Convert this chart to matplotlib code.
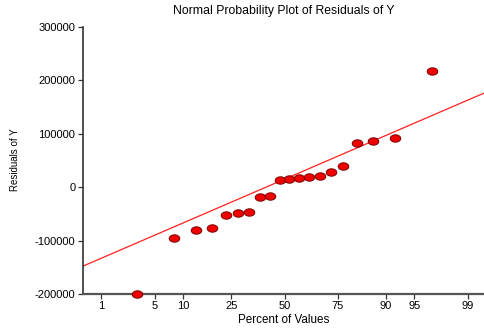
import numpy as np
import matplotlib
matplotlib.use('Agg')
import matplotlib.pyplot as plt
from matplotlib.path import Path
from matplotlib import font_manager
from statistics import NormalDist

# Residuals, sorted
residuals = [-200000, -94600, -80200, -77000, -52700, -47700, -46400,
             -19000, -17100, 14000, 16000, 16600, 19700, 20400, 28500,
             39700, 82200, 86500, 92100, 218200]

# Reference line
line_intercept = 15000
line_slope = 63700

pct_ticks = [1, 5, 10, 25, 50, 75, 90, 95, 99]
y_ticks = [-200000, -100000, 0, 100000, 200000, 300000]

nd = NormalDist()
n = len(residuals)
# Blom plotting positions -> normal quantiles
z = [nd.inv_cdf((i + 1 - 0.375) / (n + 0.25)) for i in range(n)]

plt.rcParams['font.family'] = ['Liberation Sans', 'DejaVu Sans']

# narrow font for the y label if one is around
names = {f.name for f in font_manager.fontManager.ttflist}
narrow = 'Liberation Sans Narrow' if 'Liberation Sans Narrow' in names else None

fig = plt.figure(figsize=(4.84, 3.29), dpi=100)
ax = fig.add_axes([0.1715, 0.1064, 0.8285, 0.8116])

# Horizontally stretched ellipse marker
t = np.linspace(0, 2 * np.pi, 60)
ellipse = Path(np.column_stack([np.cos(t), 0.7 * np.sin(t)]), closed=True)

x_lo, x_hi = -2.556, 2.53
xs = np.array([x_lo, x_hi])
ax.plot(xs, line_intercept + line_slope * xs, color='#ff2020', lw=0.9, zorder=2)
ax.plot(z, residuals, linestyle='none', marker=ellipse, markersize=7.6,
        markerfacecolor='#ee0000', markeredgecolor='#7a0000', markeredgewidth=0.7,
        zorder=3, clip_on=False)

ax.set_xlim(x_lo, x_hi)
ax.set_ylim(-200000, 300000)
ax.set_xticks([nd.inv_cdf(p / 100) for p in pct_ticks])
ax.set_xticklabels([str(p) for p in pct_ticks])
ax.set_yticks(y_ticks)
ax.set_yticklabels([str(v) for v in y_ticks])

for s in ['top', 'right']:
    ax.spines[s].set_visible(False)
ax.spines['left'].set_color('#333333')
ax.spines['bottom'].set_color('#555555')
ax.spines['left'].set_linewidth(1.2)
ax.spines['bottom'].set_linewidth(1.6)
ax.tick_params(axis='both', labelsize=8, length=3.5, width=0.9, color='#333333')
ax.tick_params(axis='x', pad=1.5)
ax.tick_params(axis='y', pad=2)

ax.set_title('Normal Probability Plot of Residuals of Y', fontsize=8.8, pad=9)
ax.set_xlabel('Percent of Values', fontsize=8.4, labelpad=2)
if narrow:
    fig.text(15 / 484, 1 - 160 / 329, 'Residuals of Y', rotation=90, fontsize=8.4,
             ha='center', va='center', family=narrow)
else:
    fig.text(15 / 484, 1 - 160 / 329, 'Residuals of Y', rotation=90, fontsize=7,
             ha='center', va='center')

fig.savefig('out.png', dpi=100)
